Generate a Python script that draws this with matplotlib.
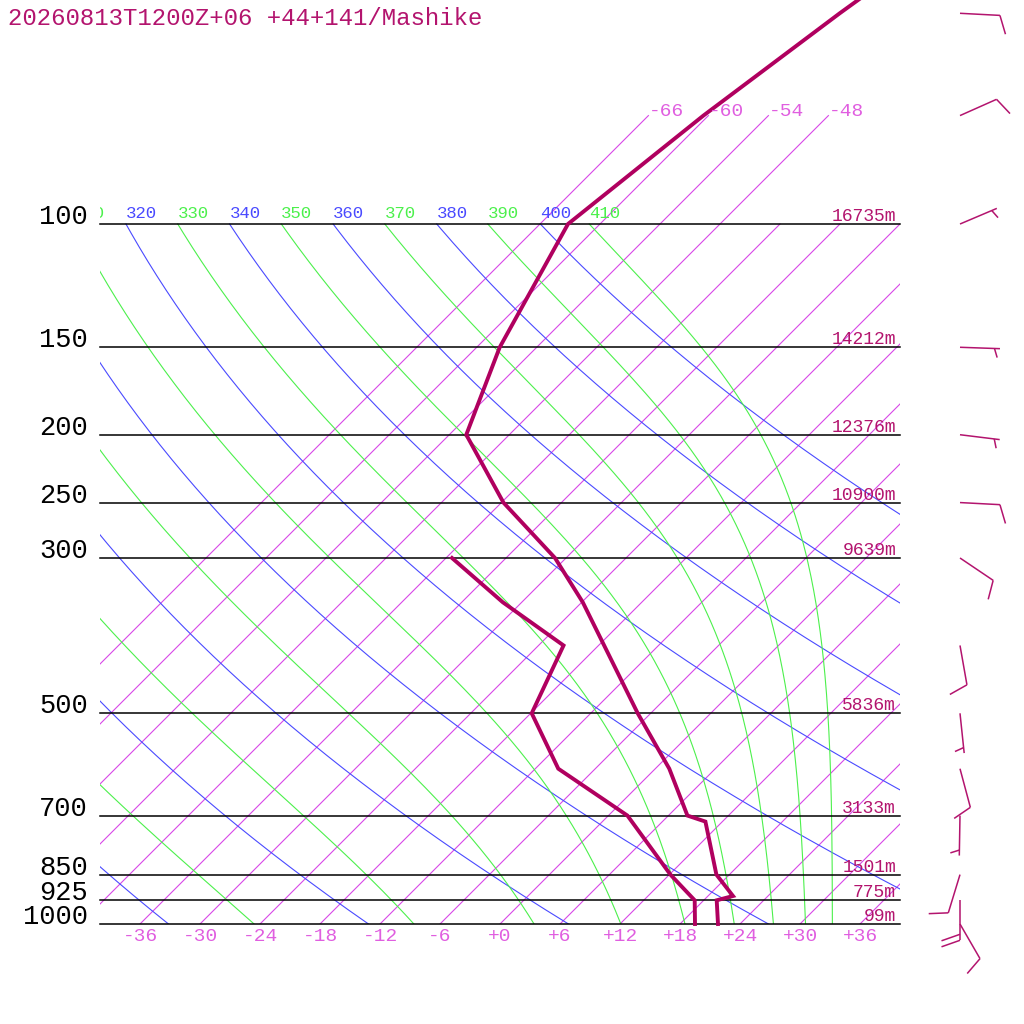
import numpy as np
import matplotlib
matplotlib.use("Agg")
import matplotlib.pyplot as plt
from matplotlib.patches import Rectangle
from matplotlib.collections import LineCollection
from matplotlib.transforms import IdentityTransform, Bbox

# sounding: temperature profile
pres_t = [1000, 925, 912, 850, 714, 700, 600, 500, 347, 300, 250, 200, 150, 100, 70, 50, 40]
temp = [21.8, 19.3, 20.5, 16.7, 10.3, 7.9, 1.4, -7.3, -23.9, -31.1, -41.8, -52.3, -57.7, -63.2, -60.5, -57.1, -54.5]

# sounding: dewpoint profile
pres_d = [1000, 925, 850, 700, 600, 500, 400, 347, 300]
dewpt = [19.5, 17.1, 12.1, 1.9, -9.7, -17.9, -21.5, -31.9, -41.4]

# mandatory levels and their heights
levels = [1000, 925, 850, 700, 500, 300, 250, 200, 150, 100]
heights = ["99m", "775m", "1501m", "3133m", "5836m", "9639m", "10900m", "12376m", "14212m", "16735m"]

# winds: staff bearing (deg) and speed (kt)
wind_p = [1000, 925, 850, 700, 600, 500, 400, 300, 250, 200, 150, 100, 70, 50]
wind_dir = [150, 180, 197, 181, 165, 174, 170, 124, 93, 97, 92, 67, 66, 93]
wind_spd = [10, 20, 10, 5, 10, 5, 10, 10, 10, 5, 5, 5, 10, 10]

# background grid
temp_ticks = list(range(-36, 37, 6))
isotherms = list(range(-66, 37, 6))
iso_labeled = [-66, -60, -54, -48]
thetas = list(range(240, 401, 20))
theta_es = list(range(250, 411, 20))

title = "20260813T1200Z+06 +44+141/Mashike"

LINE = "#b0005f"
TXT = "#b3146e"
ISO = "#d848e8"
ISO_TXT = "#e05ee0"
BLUE = "#4a4aff"
GREEN = "#4cf04c"
FONT = "Liberation Mono"

SKEW = 30.4  # degC per unit ln(p)


def skew_x(t, p):
    return np.asarray(t, dtype=float) + SKEW * np.log(1000.0 / np.asarray(p, dtype=float))


# pixel -> data helpers (layout only)
def px_x(px):
    return (px - 500) / 10.0


def px_p(py):
    return 1000.0 * np.exp(-(924 - py) / 304.0)


def theta_e(tc, p):
    tk = tc + 273.15
    es = 6.112 * np.exp(17.67 * tc / (tc + 243.5))
    r = 0.622 * es / np.maximum(p - es, 1e-6)
    th = tk * (1000.0 / p) ** 0.2857
    return th * np.exp((3376.0 / tk - 2.54) * r * (1 + 0.81 * r))


def moist_temp(the, p):
    lo = np.full_like(p, -150.0)
    hi = np.full_like(p, 60.0)
    with np.errstate(all="ignore"):
        for _ in range(60):
            mid = 0.5 * (lo + hi)
            big = theta_e(mid, p) > the
            hi = np.where(big, mid, hi)
            lo = np.where(big, lo, mid)
    return 0.5 * (lo + hi)


fig = plt.figure(figsize=(10.24, 10.24), dpi=100)
ax = fig.add_axes([0, 0, 1, 1])
ax.set_yscale("log")
ax.set_xlim(px_x(0), px_x(1024))
ax.set_ylim(px_p(1024), px_p(0))
ax.axis("off")

box = Rectangle((-40, 30), 80, 970, transform=ax.transData)
# display-space box for clipping the adiabat labels
text_box = Bbox.from_extents(100, 0, 900, 1024)


def adiabat_label(x, text, color):
    # labels wholly left of the frame would be invisible anyway
    if x < px_x(70):
        return
    tx = ax.text(x, px_p(218), text, color=color, fontsize=12.5,
                 family=FONT, ha="left", va="baseline")
    tx.set_clip_path(None)
    tx.set_clip_box(text_box)
    tx.set_clip_on(True)


# isotherms
for t in isotherms:
    top = 70 if t in iso_labeled else 100
    pp = np.array([1000.0, top])
    ln, = ax.plot(skew_x(t, pp), pp, color=ISO, lw=0.8)
    ln.set_clip_path(box)
for t in iso_labeled:
    ax.text(skew_x(t, 70), 70, str(t), color=ISO_TXT, fontsize=14,
            family=FONT, ha="left", va="baseline")

pp = np.geomspace(1000, 100, 150)

# dry adiabats
for th in thetas:
    tt = th * (pp / 1000.0) ** 0.2857 - 273.15
    ln, = ax.plot(skew_x(tt, pp), pp, color=BLUE, lw=0.8)
    ln.set_clip_path(box)
    adiabat_label(skew_x(tt[-1], 100), str(th), BLUE)

# moist adiabats
for the in theta_es:
    tt = moist_temp(the, pp)
    ln, = ax.plot(skew_x(tt, pp), pp, color=GREEN, lw=0.8)
    ln.set_clip_path(box)
    adiabat_label(skew_x(tt[-1], 100), str(the), GREEN)

# isobars, pressure and height labels
for p, h in zip(levels, heights):
    ax.plot([-40, 40], [p, p], color="black", lw=1.1)
    ax.text(px_x(88), p, str(p), color="black", fontsize=19.5, family=FONT,
            ha="right", va="baseline")
    ax.text(px_x(896), p * np.exp(-3 / 304.0), h, color=TXT, fontsize=13, family=FONT,
            ha="right", va="baseline")

# temperature ticks
for t in temp_ticks:
    lab = f"{t:+d}" if t >= 0 else str(t)
    ax.text(t, px_p(937), lab, color=ISO_TXT, fontsize=14, family=FONT,
            ha="center", va="center")

# sounding
ax.plot(skew_x(temp, pres_t), pres_t, color=LINE, lw=2.8, solid_joinstyle="miter")
ax.plot(skew_x(dewpt, pres_d), pres_d, color=LINE, lw=2.8, solid_joinstyle="miter")

# wind barbs (drawn in pixel space from the station column)
segs = []
for p, b, s in zip(wind_p, wind_dir, wind_spd):
    base = ax.transData.transform((px_x(960), p))
    br = np.radians(b)
    d = np.array([np.sin(br), np.cos(br)])
    n = np.array([np.cos(br), -np.sin(br)])
    tip = base + 40 * d
    segs.append([base, tip])
    nfull, rest = divmod(s, 10)
    pos = tip.copy()
    for i in range(nfull):
        segs.append([pos, pos + 18.5 * n + 6.5 * d])
        pos = pos - 6 * d
    if rest >= 5:
        if nfull == 0:
            pos = tip - 5.5 * d
        segs.append([pos, pos + 9 * n + 3 * d])
lc = LineCollection(segs, colors=TXT, linewidths=1.1, transform=IdentityTransform())
ax.add_collection(lc, autolim=False)

fig.text(8 / 1024, 1 - 25 / 1024, title, color=TXT, fontsize=17.3, family=FONT,
         ha="left", va="baseline")

fig.savefig("out.png", dpi=100)
